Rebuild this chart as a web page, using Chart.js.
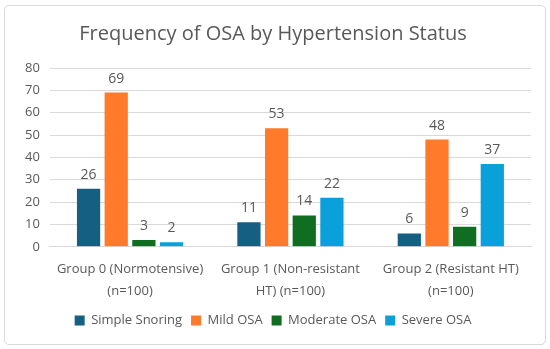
<!DOCTYPE html>
<html><head><meta charset="utf-8">
<script src="https://cdn.jsdelivr.net/npm/chart.js@4/dist/chart.umd.min.js"></script>
<style>
html,body{margin:0;padding:0;background:#fff;}
#wrap{position:absolute;left:4px;top:5px;width:540px;height:338px;border:1px solid #d9d9d9;border-radius:5px;overflow:hidden;}
canvas{display:block;}
</style></head><body>
<div id="wrap"><canvas id="c" width="540" height="338"></canvas></div>
<script>
const categories = [["Group 0 (Normotensive)","(n=100)"],["Group 1 (Non-resistant","HT) (n=100)"],["Group 2 (Resistant HT)","(n=100)"]];
const seriesNames = ["Simple Snoring","Mild OSA","Moderate OSA","Severe OSA"];
const simpleSnoring = [26, 11, 6];
const mildOSA = [69, 53, 48];
const moderateOSA = [3, 14, 9];
const severeOSA = [2, 22, 37];
const colors = ["#155F82","#FF7A2B","#0F6E22","#0AA0DA"];
const yTicks = [0,10,20,30,40,50,60,70,80];

const FONT = "'Open Sans', 'Liberation Sans', sans-serif";
const GRAY = "#595959";

const valueLabels = {
  id:'valueLabels',
  afterDatasetsDraw(chart){
    const ctx = chart.ctx;
    ctx.save();
    ctx.font = "14px " + FONT;
    ctx.fillStyle = GRAY;
    ctx.textAlign = 'center';
    ctx.textBaseline = 'bottom';
    chart.data.datasets.forEach((ds,i)=>{
      chart.getDatasetMeta(i).data.forEach((bar,j)=>{
        ctx.fillText(String(ds.data[j]), bar.x, bar.y - 7);
      });
    });
    ctx.restore();
  }
};

const allSeries = [simpleSnoring, mildOSA, moderateOSA, severeOSA];
new Chart(document.getElementById('c'), {
  type:'bar',
  data:{
    labels: categories,
    datasets: allSeries.map((d,i)=>({label:seriesNames[i], data:d, backgroundColor:colors[i], borderWidth:0, barPercentage:0.84, categoryPercentage:0.69}))
  },
  options:{
    responsive:false,
    animation:false,
    devicePixelRatio:1,
    layout:{padding:{left:10,right:14,top:12,bottom:7}},
    plugins:{
      title:{display:true,text:"Frequency of OSA by Hypertension Status",color:GRAY,font:{family:FONT,size:20,weight:'normal'},padding:{top:4,bottom:22}},
      legend:{position:'bottom',labels:{color:GRAY,font:{family:FONT,size:13},boxWidth:10,boxHeight:10,padding:9},title:{display:false}},
      tooltip:{enabled:false}
    },
    scales:{
      x:{grid:{display:false},border:{color:"#d9d9d9"},ticks:{color:GRAY,font:{family:FONT,size:13,lineHeight:1.7},padding:3,maxRotation:0,autoSkip:false}},
      y:{min:0,max:80,afterBuildTicks(ax){ax.ticks=yTicks.map(v=>({value:v}));},grid:{color:"#d9d9d9",drawTicks:false},border:{display:false},ticks:{color:GRAY,font:{family:FONT,size:13},padding:10}}
    }
  },
  plugins:[valueLabels]
});
</script></body></html>
